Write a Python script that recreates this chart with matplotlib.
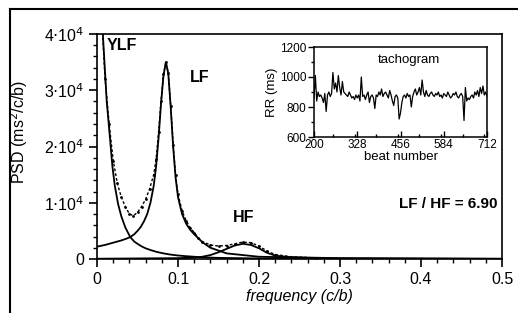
import matplotlib.pyplot as plt
from matplotlib.ticker import MultipleLocator, FixedLocator
import numpy as np

plt.rcParams['font.family'] = ['Liberation Sans', 'DejaVu Sans']

# spectral components (frequency in c/b, PSD in ms^2/c/b)
ylf_f = [0.0, 0.004, 0.008, 0.012, 0.016, 0.019, 0.022, 0.026, 0.03, 0.035, 0.041,
         0.046, 0.05, 0.055, 0.06, 0.067, 0.074, 0.082, 0.09, 0.1, 0.11, 0.13, 0.15,
         0.2, 0.3, 0.5]
ylf_v = [60000, 48000, 38000, 28000, 21500, 16500, 13000, 9800, 7600, 5600, 3900,
         3100, 2700, 2250, 1900, 1550, 1250, 1000, 800, 620, 500, 300, 200,
         100, 50, 20]

lf_f = [0.0, 0.01, 0.02, 0.03, 0.036, 0.041, 0.046, 0.05, 0.054, 0.058, 0.062,
        0.066, 0.07, 0.073, 0.076, 0.079, 0.082, 0.085, 0.088, 0.091, 0.094,
        0.097, 0.1, 0.105, 0.11, 0.115, 0.12, 0.13, 0.14, 0.16, 0.2, 0.3, 0.5]
lf_v = [2200, 2500, 2900, 3300, 3600, 3900, 4400, 5000, 5700, 6700, 8000,
        10000, 13000, 16500, 21500, 27500, 32500, 35000, 33000, 27000, 20000,
        14500, 11000, 8000, 6300, 5200, 4400, 3000, 2000, 1000, 400, 150, 50]

hf_f = [0.0, 0.1, 0.12, 0.13, 0.14, 0.15, 0.16, 0.17, 0.18, 0.19, 0.2, 0.21,
        0.22, 0.24, 0.27, 0.3, 0.5]
hf_v = [50, 150, 250, 400, 700, 1200, 1800, 2400, 2700, 2500, 1900, 1100,
        600, 300, 150, 80, 20]

tot_f = [0.0, 0.005, 0.01, 0.015, 0.02, 0.025, 0.03, 0.035, 0.04, 0.045, 0.05,
         0.055, 0.06, 0.065, 0.07, 0.073, 0.076, 0.079, 0.082, 0.085, 0.088,
         0.091, 0.094, 0.097, 0.1, 0.105, 0.11, 0.115, 0.12, 0.125, 0.13, 0.14,
         0.15, 0.16, 0.17, 0.18, 0.19, 0.2, 0.21, 0.22, 0.24, 0.27]
tot_v = [60000, 45000, 32000, 24000, 17500, 13500, 11000, 9300, 8000, 7700, 8300,
         9300, 10600, 12500, 15000, 17800, 22500, 28000, 32800, 35000, 33000,
         27200, 20300, 14900, 11500, 8600, 6800, 5600, 4700, 3800, 3100, 2500,
         2300, 2400, 2700, 3000, 2900, 2300, 1400, 800, 400, 200]

# tachogram, RR interval every 4th beat from 200 to 712
beat = list(range(200, 713, 4))
rr = [860, 1010, 840, 900, 870, 880, 860, 830, 890, 770, 880, 900, 870, 890, 1030, 920,
      960, 900, 1010, 930, 880, 970, 900, 890, 880, 870, 900, 880, 860, 870, 850, 880,
      860, 880, 840, 1000, 870, 880, 850, 880, 900, 830, 870, 880, 860, 790, 880, 870,
      900, 880, 920, 870, 890, 900, 880, 860, 910, 880, 840, 810, 870, 880, 860, 720,
      760, 830, 870, 880, 860, 890, 870, 880, 800, 870, 900, 920, 880, 900, 930, 880,
      980, 900, 870, 910, 880, 870, 890, 900, 880, 870, 890, 880, 900, 870, 880, 860,
      890, 880, 870, 900, 880, 860, 870, 890, 880, 900, 870, 860, 880, 890, 870, 710,
      930, 840, 860, 850, 870, 880, 860, 900, 880, 910, 870, 930, 890, 940, 880, 900,
      870]

yticks = [0, 10000, 20000, 30000, 40000]
ytick_labels = ['0', r'1$\cdot$10$^4$', r'2$\cdot$10$^4$', r'3$\cdot$10$^4$', r'4$\cdot$10$^4$']
xticks = [0, 0.1, 0.2, 0.3, 0.4, 0.5]

fig = plt.figure(figsize=(5.18, 3.13), dpi=100)

# outer frame (left and top edges only)
fig.add_artist(plt.Line2D([10 / 518, 10 / 518], [0, 1 - 9 / 313], color='black', lw=1.5))
fig.add_artist(plt.Line2D([10 / 518, 1], [1 - 9 / 313, 1 - 9 / 313], color='black', lw=1.5))

ax = fig.add_axes([97 / 518, 1 - 259 / 313, 405 / 518, 225 / 313])
ax.plot(ylf_f, ylf_v, color='black', lw=1.3)
ax.plot(lf_f, lf_v, color='black', lw=1.3)
ax.plot(hf_f, hf_v, color='black', lw=1.3)
ax.plot(tot_f, tot_v, color='black', lw=1.0, ls=(0, (2, 1.5)), marker='.', ms=2)
ax.set_xlim(0, 0.5)
ax.set_ylim(0, 40000)
ax.set_xticks(xticks)
ax.set_xticklabels(['0', '0.1', '0.2', '0.3', '0.4', '0.5'])
ax.set_yticks(yticks)
ax.set_yticklabels(ytick_labels)
ax.xaxis.set_minor_locator(MultipleLocator(0.02))
ax.yaxis.set_minor_locator(MultipleLocator(2000))
ax.tick_params(which='major', length=6, width=1.2, labelsize=11.5, pad=3)
ax.tick_params(which='minor', length=3, width=1)
for s in ax.spines.values():
    s.set_linewidth(1.2)
ax.set_xlabel('frequency (c/b)', fontsize=11.5, style='italic', labelpad=2)
ax.set_ylabel(r'PSD (ms$^2$/c/b)', fontsize=11.5)
ax.yaxis.set_label_coords(-0.165, 0.566)

ax.text(0.012, 38000, 'YLF', fontsize=11.5, fontweight='bold', va='center')
ax.text(0.115, 32200, 'LF', fontsize=11.5, fontweight='bold', va='center')
ax.text(0.168, 7400, 'HF', fontsize=11.5, fontweight='bold', va='center')
ax.text(0.495, 9700, 'LF / HF = 6.90', fontsize=11, fontweight='bold', va='center', ha='right')

# inset tachogram
ins = fig.add_axes([314 / 518, 1 - 137 / 313, 173 / 518, 90 / 313])
ins.plot(beat, rr, color='black', lw=0.9)
ins.set_xlim(200, 712)
ins.set_ylim(600, 1200)
ins.xaxis.set_major_locator(FixedLocator([200, 328, 456, 584, 712]))
ins.xaxis.set_minor_locator(MultipleLocator(64))
ins.yaxis.set_major_locator(FixedLocator([600, 800, 1000, 1200]))
ins.yaxis.set_minor_locator(MultipleLocator(100))
ins.tick_params(axis='both', which='major', labelsize=8.5, length=4, width=1, pad=1.5)
ins.tick_params(axis='both', which='minor', length=2.5, width=1)
ins.tick_params(axis='x', which='both', direction='in')
for s in ins.spines.values():
    s.set_linewidth(1.1)
ins.set_xlabel('beat number', fontsize=9.5, labelpad=0)
ins.set_ylabel('RR (ms)', fontsize=9.5, labelpad=1)
ins.text(0.55, 0.85, 'tachogram', transform=ins.transAxes, fontsize=9.5, ha='center', va='center')

fig.savefig('out.png', dpi=100)
